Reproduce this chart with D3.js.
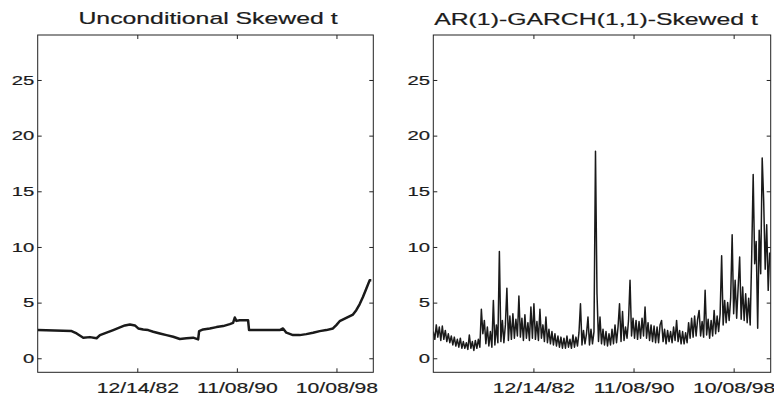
<!DOCTYPE html>
<html>
<head>
<meta charset="utf-8">
<script src="https://cdn.jsdelivr.net/npm/d3@7"></script>
<style>
  body { margin: 0; background: #fff; }
  text { font-family: "Liberation Sans", Arial, Helvetica, sans-serif; fill: #1c1c1c;
         stroke: #1c1c1c; stroke-width: 0.2; }
</style>
</head>
<body>
<svg id="chart" width="774" height="398"></svg>
<script>
// tick positions are observation numbers, labelled with the dates
const tickObs = [2000, 4000, 6000];
const tickLabels = ['12/14/82', '11/08/90', '10/08/98'];
const yTicks = [0, 5, 10, 15, 20, 25];
const titles = ['Unconditional Skewed t', 'AR(1)-GARCH(1,1)-Skewed t'];

// left panel: observation, value
const uncondObs = [0, 681, 782, 915, 1049, 1183, 1250, 1383, 1517, 1651, 1751, 1852, 1952, 2019,
  2119, 2219, 2320, 2453, 2587, 2721, 2855, 2988, 3122, 3222, 3242, 3323, 3456, 3590, 3724,
  3858, 3924, 3958, 3991, 4058, 4225, 4245, 4326, 4861, 4927, 4994, 5128, 5262, 5395, 5529,
  5663, 5796, 5930, 5997, 6064, 6198, 6332, 6398, 6465, 6532, 6599, 6666, 6700];
const uncondVal = [2.53, 2.44, 2.23, 1.85, 1.9, 1.8, 2.08, 2.3, 2.53, 2.77, 2.95, 3.04, 2.95, 2.68,
  2.59, 2.53, 2.38, 2.23, 2.08, 1.93, 1.73, 1.79, 1.85, 1.7, 2.44, 2.59, 2.68, 2.8, 2.89,
  3.07, 3.18, 3.66, 3.36, 3.42, 3.42, 2.53, 2.53, 2.53, 2.68, 2.3, 2.08, 2.08, 2.17, 2.29,
  2.44, 2.53, 2.68, 2.98, 3.33, 3.63, 3.93, 4.32, 4.85, 5.5, 6.25, 7.0, 7.0];

// right panel: one value every 30 observations
const garchStep = 30;
const garchVal = [
  2.4, 1.7, 3.0, 1.9, 2.8, 1.6, 2.9, 1.7, 2.5, 1.5, 2.2, 1.4,
  2.0, 1.2, 1.9, 1.1, 1.7, 1.0, 1.8, 0.9, 1.5, 0.9, 1.4, 0.8,
  2.1, 0.9, 1.5, 0.7, 1.6, 0.9, 1.7, 1.0,
  4.4, 2.2, 3.4, 1.3, 2.8, 1.1, 2.4, 1.0, 5.2, 1.2,
  3.0, 1.4, 9.6, 1.5, 3.4, 1.4, 3.0, 6.3, 1.6, 3.8,
  1.7, 4.0, 1.8, 3.5, 2.0, 5.6, 1.9, 3.6, 1.6, 3.9,
  1.8, 3.2, 1.6, 4.6, 1.8, 4.9,
  1.7, 3.3, 1.6, 4.4, 1.8, 3.0, 1.5, 3.7, 1.4, 2.6,
  1.3, 2.4, 1.2, 2.2, 1.1, 2.0, 1.0, 1.9, 0.9, 1.8,
  0.9, 2.0, 1.0, 1.7, 0.9, 2.1, 1.0, 1.9, 1.1, 2.3,
  4.9, 1.2, 2.5, 1.3, 2.2, 3.7, 1.2, 2.6, 1.3, 2.4,
  18.6, 5.8, 1.5, 3.7, 1.3, 2.6, 1.2, 2.4, 1.1, 2.2,
  1.2, 2.6, 1.3, 3.0, 1.4, 2.8, 4.9, 1.5, 4.2, 1.6,
  2.8, 1.8, 3.4, 7.0, 2.0, 3.6, 1.8, 3.4, 1.7, 3.3,
  1.8, 3.6, 2.0, 4.6, 1.8, 3.2, 1.6, 3.0, 1.5, 2.9,
  1.4, 2.8, 1.4, 3.0, 3.4, 1.5, 2.6, 1.3, 2.5, 1.5,
  2.4, 1.4, 2.8, 1.6, 3.4, 1.5, 2.5, 1.3, 2.4, 1.3,
  2.3, 1.4, 3.2, 1.8, 3.6, 1.9, 3.8, 2.0, 3.5, 4.3,
  2.0, 3.3, 1.9, 6.1, 2.1, 3.5, 1.8, 3.4, 2.0, 4.3,
  2.2, 3.8, 2.4, 4.0, 9.2, 3.0, 5.2, 3.2, 5.0, 3.4,
  5.4, 11.1, 4.0, 7.0, 3.6, 6.4, 9.1, 3.5, 6.4, 3.4,
  5.8, 3.2, 5.4, 3.0, 9.1, 16.5, 8.5, 10.5, 2.7, 11.5,
  7.6, 18.0, 14.1, 8.0, 12.0, 6.1, 9.5];

const svg = d3.select('#chart');
const translate = (x, y) => `translate(${x},${y})`;

const plotTop = 35, plotBottom = 372.3;
const panels = [
  { left: 37.7, right: 373.3, titleX: 208, titleY: 24,
    data: uncondObs.map((o, i) => [o, uncondVal[i]]), width: 2.5 },
  { left: 433.3, right: 770.7, titleX: 596, titleY: 25,
    data: garchVal.map((v, i) => [i * garchStep, v]), width: 1.5 }
];

const yScale = d3.scaleLinear().domain([-1.26, 29.04]).range([plotBottom, plotTop]);
const titleStretch = 1.55, xLabelStretch = 1.41, yLabelStretch = 1.5;

panels.forEach((p, k) => {
  const xScale = d3.scaleLinear().domain([0, 6740]).range([p.left, p.right]);
  const g = svg.append('g');

  g.append('clipPath').attr('id', 'clip' + k)
    .append('rect')
    .attr('x', p.left).attr('y', plotTop)
    .attr('width', p.right - p.left).attr('height', plotBottom - plotTop);

  const line = d3.line().x(d => xScale(d[0])).y(d => yScale(d[1]));

  g.append('path')
    .datum(p.data)
    .attr('clip-path', `url(#clip${k})`)
    .attr('fill', 'none')
    .attr('stroke', '#1a1a1a')
    .attr('stroke-width', p.width)
    .attr('stroke-linejoin', 'round')
    .attr('d', line);

  // inward ticks on all four sides, matlab style
  const bottomAxis = d3.axisBottom(xScale).tickValues(tickObs)
    .tickFormat((d, i) => tickLabels[i]).tickSizeInner(-4).tickSizeOuter(0).tickPadding(9.8);
  const topAxis = d3.axisTop(xScale).tickValues(tickObs)
    .tickFormat('').tickSizeInner(-4).tickSizeOuter(0);
  const leftAxis = d3.axisLeft(yScale).tickValues(yTicks)
    .tickSizeInner(-4).tickSizeOuter(0).tickPadding(3.4);
  const rightAxis = d3.axisRight(yScale).tickValues(yTicks)
    .tickFormat('').tickSizeInner(-4).tickSizeOuter(0);

  const gb = g.append('g').attr('transform', translate(0, plotBottom)).call(bottomAxis);
  g.append('g').attr('transform', translate(0, plotTop)).call(topAxis);
  const gl = g.append('g').attr('transform', translate(p.left, 0)).call(leftAxis);
  g.append('g').attr('transform', translate(p.right, 0)).call(rightAxis);

  g.selectAll('.domain').remove();
  g.selectAll('.tick line').attr('stroke', '#222');

  gb.attr('font-family', null);
  gb.selectAll('.tick text')
    .attr('font-size', 15)
    .attr('transform', `scale(${xLabelStretch},1)`);

  gl.attr('font-family', null);
  gl.selectAll('.tick text')
    .attr('font-size', 13.5)
    .attr('x', -3.4 / yLabelStretch)
    .attr('transform', `scale(${yLabelStretch},1)`);

  g.append('rect')
    .attr('x', p.left).attr('y', plotTop)
    .attr('width', p.right - p.left).attr('height', plotBottom - plotTop)
    .attr('fill', 'none').attr('stroke', '#222').attr('stroke-width', 1);

  g.append('text')
    .attr('transform', translate(p.titleX, p.titleY) + ` scale(${titleStretch},1)`)
    .attr('text-anchor', 'middle')
    .attr('font-size', 16)
    .text(titles[k]);
});
</script>
</body>
</html>
